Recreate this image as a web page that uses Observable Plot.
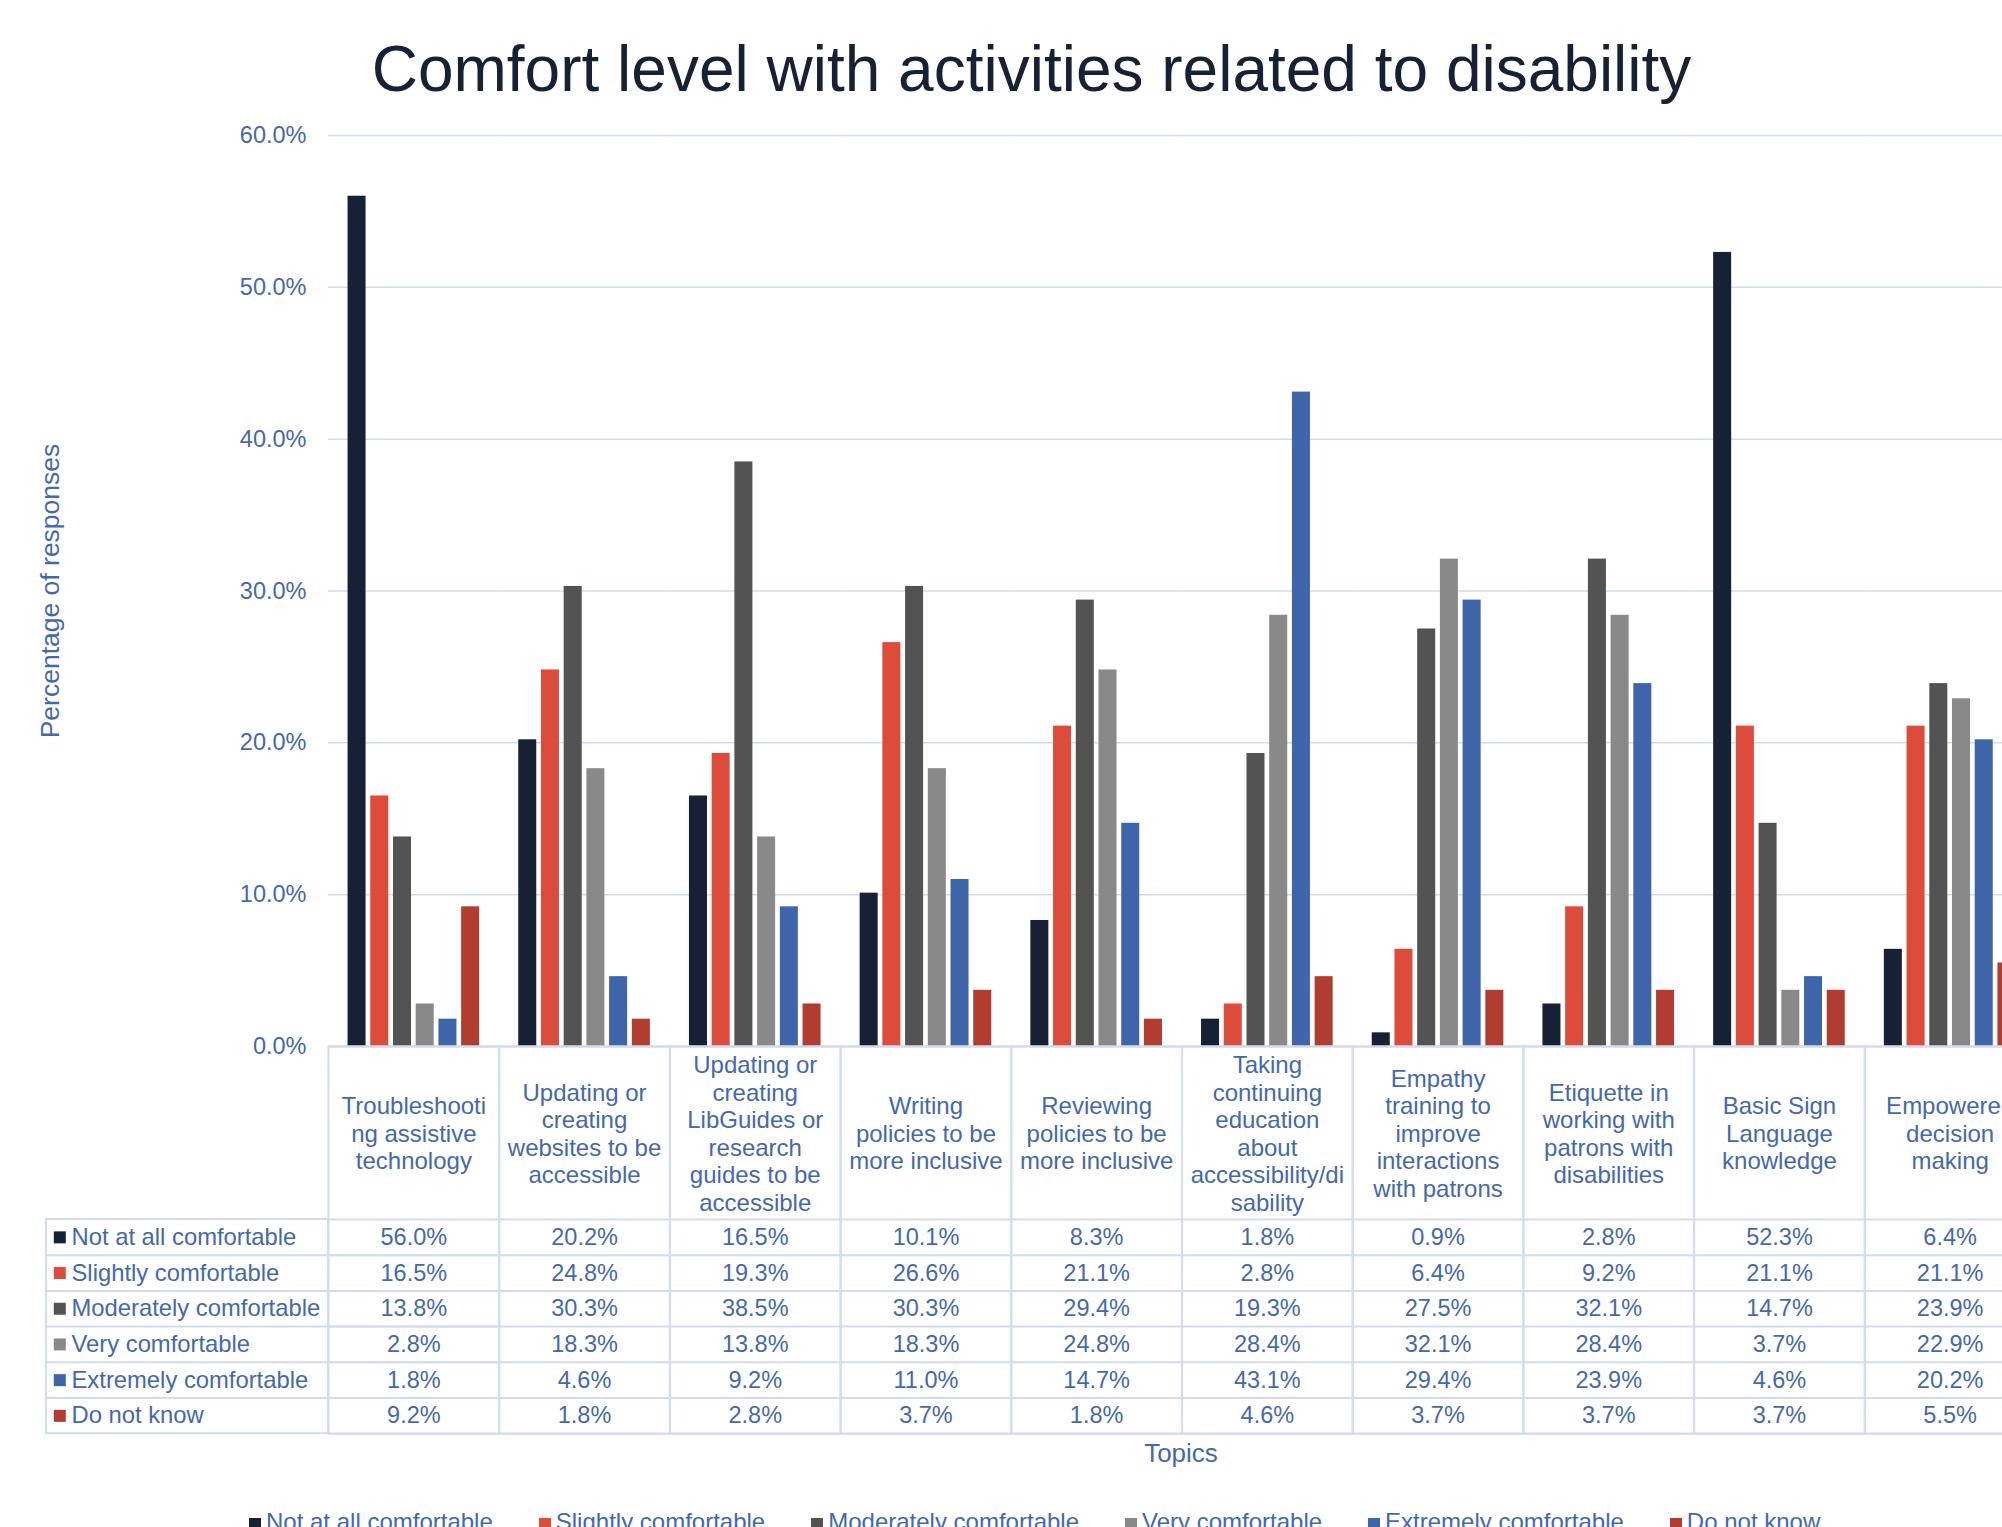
<!DOCTYPE html>
<html>
<head>
<meta charset="utf-8">
<script src="https://cdn.jsdelivr.net/npm/d3@7"></script>
<script src="https://cdn.jsdelivr.net/npm/@observablehq/plot@0.6"></script>
<style>
  html, body { margin: 0; padding: 0; background: #fff; overflow: hidden; }
  #page { position: relative; width: 2036px; height: 1560px; font-family: "Liberation Sans", Arial, sans-serif; }
  #title { position: absolute; left: 0; width: 2063px; top: 37px; text-align: center; font-size: 64px; line-height: 64px; color: #172135; white-space: nowrap; }
  #chart { position: absolute; left: 0; top: 0; }
  #xlabel { position: absolute; left: 1081px; width: 200px; top: 1440px; text-align: center; font-size: 26px; line-height: 26px; color: #4468B0; }
  #legend { position: absolute; left: 249px; top: 1510px; display: flex; white-space: nowrap; font-size: 24px; line-height: 24px; color: #4468B0; }
  #legend .item { margin-right: 46px; }
  #legend .sw { display: inline-block; width: 12px; height: 12px; margin-right: 5px; }
</style>
</head>
<body>
<div id="page">
  <div id="chart"></div>
  <div id="title">Comfort level with activities related to disability</div>
  <div id="xlabel">Topics</div>
  <div id="legend"></div>
</div>
<script>
// Survey topics (columns) and their wrapped header lines
const categories = [
  "Troubleshooting assistive technology",
  "Updating or creating websites to be accessible",
  "Updating or creating LibGuides or research guides to be accessible",
  "Writing policies to be more inclusive",
  "Reviewing policies to be more inclusive",
  "Taking continuing education about accessibility/disability",
  "Empathy training to improve interactions with patrons",
  "Etiquette in working with patrons with disabilities",
  "Basic Sign Language knowledge",
  "Empowered decision making"
];
const categoryLines = [
  ["Troubleshooti", "ng assistive", "technology"],
  ["Updating or", "creating", "websites to be", "accessible"],
  ["Updating or", "creating", "LibGuides or", "research", "guides to be", "accessible"],
  ["Writing", "policies to be", "more inclusive"],
  ["Reviewing", "policies to be", "more inclusive"],
  ["Taking", "continuing", "education", "about", "accessibility/di", "sability"],
  ["Empathy", "training to", "improve", "interactions", "with patrons"],
  ["Etiquette in", "working with", "patrons with", "disabilities"],
  ["Basic Sign", "Language", "knowledge"],
  ["Empowered", "decision", "making"]
];

// Response levels and colours
const series = [
  "Not at all comfortable",
  "Slightly comfortable",
  "Moderately comfortable",
  "Very comfortable",
  "Extremely comfortable",
  "Do not know"
];
const seriesColors = ["#172135", "#DD4B3A", "#535353", "#898989", "#3E64A9", "#B03D30"];

// Percentage of responses per level, one value per topic
const notAtAll   = [56.0, 20.2, 16.5, 10.1,  8.3,  1.8,  0.9,  2.8, 52.3,  6.4];
const slightly   = [16.5, 24.8, 19.3, 26.6, 21.1,  2.8,  6.4,  9.2, 21.1, 21.1];
const moderately = [13.8, 30.3, 38.5, 30.3, 29.4, 19.3, 27.5, 32.1, 14.7, 23.9];
const very       = [ 2.8, 18.3, 13.8, 18.3, 24.8, 28.4, 32.1, 28.4,  3.7, 22.9];
const extremely  = [ 1.8,  4.6,  9.2, 11.0, 14.7, 43.1, 29.4, 23.9,  4.6, 20.2];
const doNotKnow  = [ 9.2,  1.8,  2.8,  3.7,  1.8,  4.6,  3.7,  3.7,  3.7,  5.5];

const yTicks = [0, 10, 20, 30, 40, 50, 60];

const seriesValues = [notAtAll, slightly, moderately, very, extremely, doNotKnow];
const rows = series.flatMap((s, si) =>
  categories.map((c, ci) => ({category: c, series: s, value: seriesValues[si][ci]}))
);

// Layout
const textBlue = "#4468B0";
const lineColor = "#D3DCEE";
const width = 2036, height = 1440;
const marginLeft = 328, marginRight = 1, marginTop = 135, marginBottom = 394;
const plotH = height - marginTop - marginBottom;
const colW = (width - marginLeft - marginRight) / categories.length;
const headerH = 173, rowH = 35.7, labelColW = 282;
const tableH = headerH + series.length * rowH;
const first = () => categories[0];
const pct = v => v.toFixed(1) + "%";

const marks = [
  Plot.gridY({ticks: yTicks, stroke: lineColor, strokeOpacity: 1, strokeWidth: 1.5}),
  Plot.axisY({ticks: yTicks, tickFormat: pct, tickSize: 0, tickPadding: 22, label: null, fontSize: 23.5}),
  Plot.barY(rows, {fx: "category", x: "series", y: "value", fill: "series"}),

  // data table grid
  Plot.ruleY([0], {stroke: lineColor, strokeWidth: 2.2}),
  ...d3.range(series.length + 1).map(k =>
    Plot.ruleY([0], {stroke: lineColor, strokeWidth: 2, dy: headerH + k * rowH})
  ),
  Plot.frame({stroke: lineColor, strokeWidth: 2, insetTop: plotH, insetBottom: -tableH}),
  Plot.rect([0], {fx: first, stroke: lineColor, strokeWidth: 2, fill: "none",
    insetLeft: -labelColW, insetRight: colW, insetTop: plotH + headerH, insetBottom: -tableH}),
  ...d3.range(1, series.length).map(k =>
    Plot.ruleY([0], {fx: first, stroke: lineColor, strokeWidth: 2, dy: headerH + k * rowH, insetLeft: -labelColW})
  ),

  // column headers
  Plot.text(categories, {
    fx: d => d, text: (d, i) => categoryLines[i].join("\n"),
    frameAnchor: "bottom", dy: headerH / 2, lineAnchor: "middle", lineHeight: 1.146,
    fontSize: 24, fill: textBlue
  }),

  // table rows: level label with swatch, then one value per topic
  ...series.flatMap((s, i) => {
    const dy = headerH + rowH * (i + 0.5);
    return [
      Plot.text(rows.filter(d => d.series === s), {
        fx: "category", text: d => pct(d.value), frameAnchor: "bottom", lineAnchor: "middle",
        dy, fontSize: 23.5, fill: textBlue
      }),
      Plot.dot([s], {fx: first, fill: d => d, symbol: "square", r: 6.77, frameAnchor: "bottom-left", dx: -(marginLeft - 59.3), dy}),
      Plot.text([s], {fx: first, text: d => d, frameAnchor: "bottom-left", textAnchor: "start", lineAnchor: "middle",
        dx: -(marginLeft - 71), dy, fontSize: 23.8, fill: textBlue})
    ];
  }),

  // y axis title
  Plot.text(["Percentage of responses"], {fx: first, text: d => d, frameAnchor: "left", textAnchor: "middle", lineAnchor: "middle",
    dx: -(marginLeft - 50), rotate: -90, fontSize: 26.5, fill: textBlue})
];

const chart = Plot.plot({
  width, height, marginLeft, marginRight, marginTop, marginBottom,
  style: {fontFamily: "'Liberation Sans', Arial, sans-serif", fontSize: "23.5px", color: textBlue, background: "white", maxWidth: "none", overflow: "visible"},
  fx: {domain: categories, padding: 0, round: false, axis: null},
  x: {domain: series, paddingInner: 0.207, paddingOuter: 0.86, round: false, axis: null},
  y: {domain: [0, 60]},
  color: {domain: series, range: seriesColors},
  marks
});
document.getElementById("chart").append(chart);

// Legend beneath the chart
const legend = d3.select("#legend");
series.forEach((s, i) => {
  const item = legend.append("span").attr("class", "item");
  item.append("span").attr("class", "sw").style("background", seriesColors[i]);
  item.append("span").text(s);
});
</script>
</body>
</html>
